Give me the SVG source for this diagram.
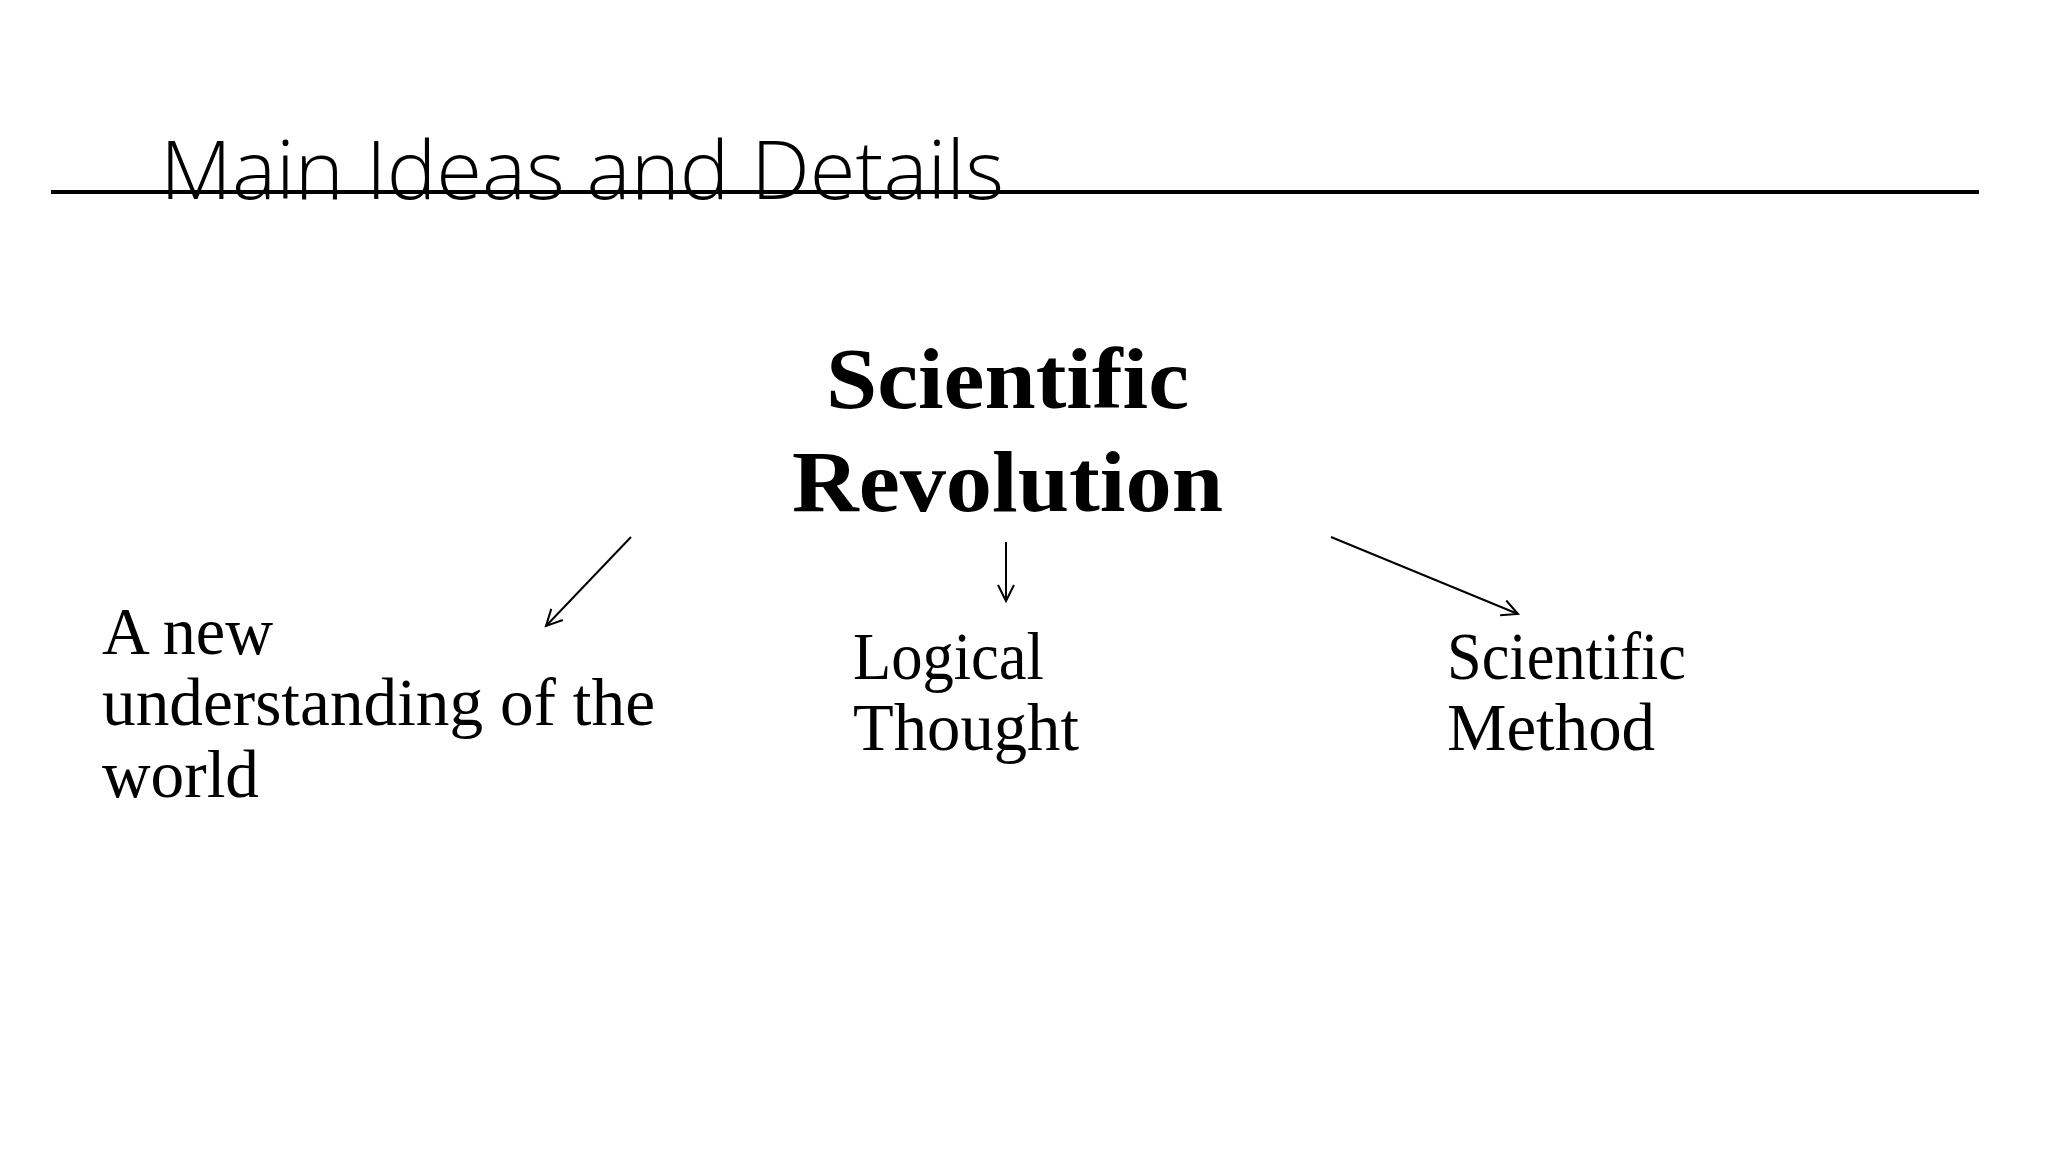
<svg xmlns="http://www.w3.org/2000/svg" width="2048" height="1152" viewBox="0 0 2048 1152">
  <style>
    .title { font-family: "Open Sans", "Liberation Sans", sans-serif; font-weight: 300; font-size: 82px; fill: #000; }
    .main { font-family: "Liberation Serif", "DejaVu Serif", serif; font-weight: bold; font-size: 86px; fill: #000; }
    .label { font-family: "Liberation Serif", "DejaVu Serif", serif; font-size: 67px; fill: #000; }
    .conn { stroke: #000; stroke-width: 2; fill: none; marker-end: url(#arrow); }
  </style>
  <defs>
    <marker id="arrow" markerUnits="userSpaceOnUse" markerWidth="24" markerHeight="24" refX="18" refY="10" orient="auto" viewBox="0 0 24 20">
      <path d="M2,2 L18,10 L2,18" fill="none" stroke="#000" stroke-width="2"/>
    </marker>
  </defs>
  <rect width="2048" height="1152" fill="#fff"/>
  <g id="title">
    <text class="title" x="160" y="199" textLength="844" lengthAdjust="spacingAndGlyphs">Main Ideas and Details</text>
    <line x1="51" y1="192" x2="1979" y2="192" stroke="#000" stroke-width="4"/>
  </g>
  <g id="node-scientific-revolution">
    <text class="main" x="826" y="408" textLength="363" lengthAdjust="spacingAndGlyphs">Scientific</text>
    <text class="main" x="792" y="511" textLength="431" lengthAdjust="spacingAndGlyphs">Revolution</text>
  </g>
  <g id="node-new-understanding">
    <text class="label" x="102" y="654" textLength="171" lengthAdjust="spacingAndGlyphs">A new</text>
    <text class="label" x="102" y="725" textLength="553" lengthAdjust="spacingAndGlyphs">understanding of the</text>
    <text class="label" x="102" y="797" textLength="157" lengthAdjust="spacingAndGlyphs">world</text>
  </g>
  <g id="node-logical-thought">
    <text class="label" x="853" y="679" textLength="191" lengthAdjust="spacingAndGlyphs">Logical</text>
    <text class="label" x="853" y="750" textLength="226" lengthAdjust="spacingAndGlyphs">Thought</text>
  </g>
  <g id="node-scientific-method">
    <text class="label" x="1447" y="679" textLength="239" lengthAdjust="spacingAndGlyphs">Scientific</text>
    <text class="label" x="1447" y="750" textLength="208" lengthAdjust="spacingAndGlyphs">Method</text>
  </g>
  <g id="connectors">
    <line class="conn" x1="631" y1="537" x2="546" y2="626"/>
    <line class="conn" x1="1006" y1="542" x2="1006" y2="601"/>
    <line class="conn" x1="1331" y1="537" x2="1518" y2="614"/>
  </g>
</svg>
